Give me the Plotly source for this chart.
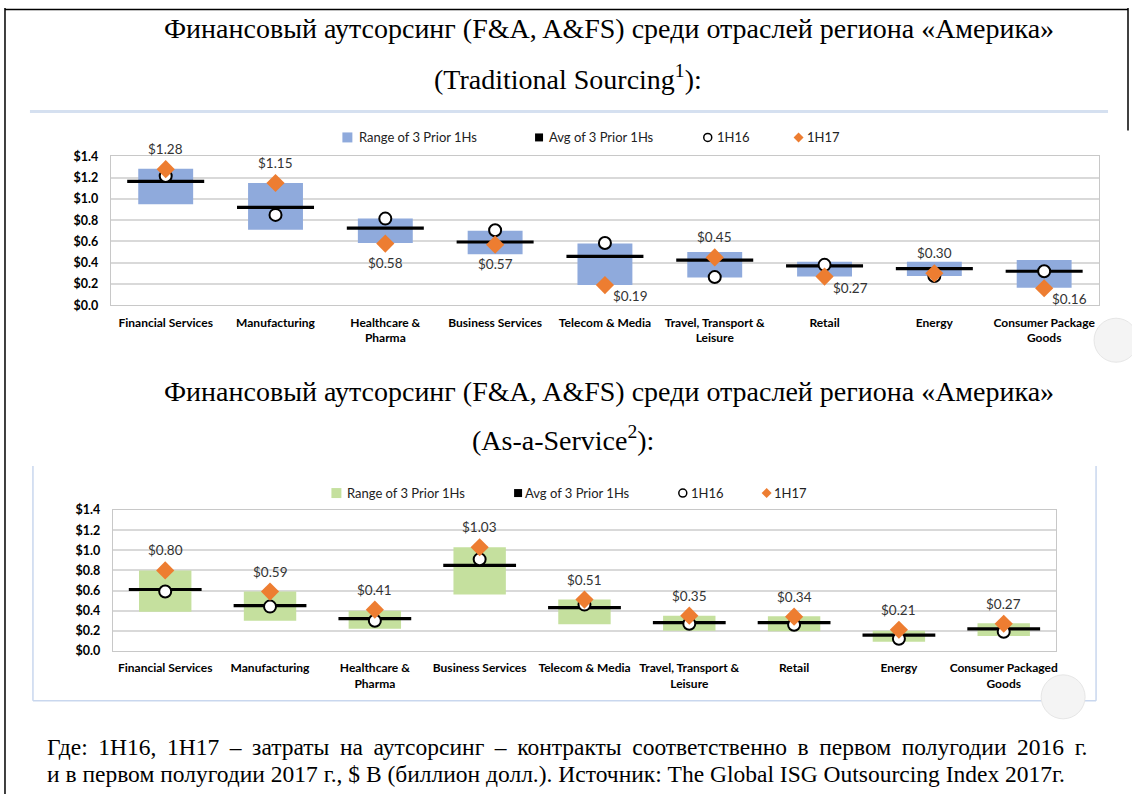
import plotly.graph_objects as go

W, H = 1132, 801

# ---------------- data ----------------
cats_trad = ["Financial Services", "Manufacturing", "Healthcare &<br>Pharma", "Business Services",
             "Telecom & Media", "Travel, Transport &<br>Leisure", "Retail", "Energy",
             "Consumer Package<br>Goods"]
cats_aas = ["Financial Services", "Manufacturing", "Healthcare &<br>Pharma", "Business Services",
            "Telecom & Media", "Travel, Transport &<br>Leisure", "Retail", "Energy",
            "Consumer Packaged<br>Goods"]

trad_low = [0.95, 0.71, 0.585, 0.48, 0.19, 0.26, 0.27, 0.275, 0.165]
trad_high = [1.285, 1.15, 0.815, 0.70, 0.58, 0.50, 0.41, 0.41, 0.425]
trad_avg = [1.165, 0.92, 0.725, 0.595, 0.46, 0.425, 0.37, 0.345, 0.32]
trad_1h16 = [1.215, 0.85, 0.815, 0.705, 0.585, 0.265, 0.38, 0.275, 0.32]
trad_1h17 = [1.28, 1.15, 0.58, 0.57, 0.19, 0.45, 0.27, 0.30, 0.16]

aas_low = [0.39, 0.30, 0.22, 0.56, 0.265, 0.20, 0.195, 0.09, 0.147]
aas_high = [0.80, 0.59, 0.40, 1.03, 0.51, 0.35, 0.345, 0.20, 0.275]
aas_avg = [0.61, 0.45, 0.32, 0.85, 0.43, 0.28, 0.28, 0.157, 0.218]
aas_1h16 = [0.59, 0.44, 0.30, 0.91, 0.46, 0.27, 0.26, 0.12, 0.19]
aas_1h17 = [0.80, 0.59, 0.41, 1.03, 0.51, 0.35, 0.34, 0.21, 0.27]

y_ticks = [0, 0.2, 0.4, 0.6, 0.8, 1.0, 1.2, 1.4]
y_ticktext = ["$0.0", "$0.2", "$0.4", "$0.6", "$0.8", "$1.0", "$1.2", "$1.4"]

legend_labels = ["Range of 3 Prior 1Hs", "Avg of 3 Prior 1Hs", "1H16", "1H17"]

# styles: label placement of the 1H17 values (a = above, b = below, r = below right)
trad_pos = ["a", "a", "b", "b", "r", "a", "r", "a", "r"]
aas_pos = ["a"] * 9
BLUE = "#8FAADC"
GREEN = "#C5E09E"
ORANGE = "#ED7D31"
SANS = "Lato"
SERIF = "Liberation Serif"


def px(x):
    return x / W


def py(y):
    y = 420 + (y - 420) * 1.018
    return 1 - y / H


fig = go.Figure()
annotations = []
shapes = []


def add_chart(cats, low, high, avg, h16, h17, color, xa, ya, boxpx, pos):
    fig.add_trace(go.Bar(x=cats, y=[h - l for h, l in zip(high, low)], base=low, width=0.5,
                         marker=dict(color=color, line=dict(width=0)), xaxis=xa, yaxis=ya,
                         showlegend=False, hoverinfo="skip"))
    fig.add_trace(go.Scatter(x=cats, y=avg, mode="markers", xaxis=xa, yaxis=ya,
                             marker=dict(symbol="line-ew", size=boxpx,
                                         line=dict(color="black", width=3.2)),
                             showlegend=False, hoverinfo="skip", cliponaxis=False))
    fig.add_trace(go.Scatter(x=cats, y=h16, mode="markers", xaxis=xa, yaxis=ya,
                             marker=dict(symbol="circle", size=12, color="white",
                                         line=dict(color="black", width=2)),
                             showlegend=False, hoverinfo="skip", cliponaxis=False))
    fig.add_trace(go.Scatter(x=cats, y=h17, mode="markers", xaxis=xa, yaxis=ya,
                             marker=dict(symbol="diamond", size=14, color=ORANGE),
                             showlegend=False, hoverinfo="skip", cliponaxis=False))
    for c, v, p in zip(cats, h17, pos):
        if p == "a":
            off = dict(xanchor="center", yanchor="middle", xshift=0, yshift=20)
        elif p == "b":
            off = dict(xanchor="center", yanchor="middle", xshift=0, yshift=-19)
        else:
            off = dict(xanchor="left", yanchor="middle", xshift=6, yshift=-11)
        annotations.append(dict(xref=xa, yref=ya, x=c, y=v, text=f"${v:.2f}", showarrow=False,
                                font=dict(family=SANS, size=13.5, color="#333333"), **off))


add_chart(cats_trad, trad_low, trad_high, trad_avg, trad_1h16, trad_1h17, BLUE, "x", "y", 55, trad_pos)
add_chart(cats_aas, aas_low, aas_high, aas_avg, aas_1h16, aas_1h17, GREEN, "x2", "y2", 52, aas_pos)

xcommon = dict(type="category", range=[-0.5, 8.5], showgrid=False, ticks="", showline=True,
               linecolor="#C8C8C8", linewidth=1, mirror=True,
               tickfont=dict(family=SANS, size=12, color="black", weight="bold"),
               ticklabelstandoff=6, fixedrange=True)
ycommon = dict(range=[0, 1.4], tickmode="array", tickvals=y_ticks, ticktext=y_ticktext,
               showgrid=True, gridcolor="#D9D9D9", gridwidth=1.5, showline=True,
               linecolor="#C8C8C8", linewidth=1, mirror=True, zeroline=False, ticks="",
               tickfont=dict(family=SANS, size=12.5, color="black", weight="bold"),
               ticklabelstandoff=9, fixedrange=True)

fig.update_layout(
    width=W, height=H, autosize=False,
    margin=dict(l=0, r=0, t=0, b=0),
    paper_bgcolor="white", plot_bgcolor="white",
    showlegend=False,
    xaxis=dict(domain=[px(111), px(1101)], anchor="y", **xcommon),
    yaxis=dict(domain=[py(305), py(156)], anchor="x", **ycommon),
    xaxis2=dict(domain=[px(113), px(1058)], anchor="y2", **xcommon),
    yaxis2=dict(domain=[py(651), py(510)], anchor="x2", **ycommon),
)


def legend(yc, xs, color):
    x0, xt0, x1, xt1, x2, xt2, x3, xt3 = xs
    shapes.append(dict(type="rect", xref="paper", yref="paper", x0=px(x0), x1=px(x0 + 10),
                       y0=py(yc + 5), y1=py(yc - 5), fillcolor=color, line=dict(width=0)))
    shapes.append(dict(type="rect", xref="paper", yref="paper", x0=px(x1), x1=px(x1 + 8),
                       y0=py(yc + 4), y1=py(yc - 4), fillcolor="black", line=dict(width=0)))
    shapes.append(dict(type="circle", xref="paper", yref="paper", x0=px(x2 - 4), x1=px(x2 + 4),
                       y0=py(yc + 4), y1=py(yc - 4), fillcolor="white",
                       line=dict(color="black", width=1.5)))
    path = (f"M {px(x3)} {py(yc - 5)} L {px(x3 + 5)} {py(yc)} L {px(x3)} {py(yc + 5)} "
            f"L {px(x3 - 5)} {py(yc)} Z")
    shapes.append(dict(type="path", xref="paper", yref="paper", path=path, fillcolor=ORANGE,
                       line=dict(width=0)))
    for xt, lab in zip([xt0, xt1, xt2, xt3], legend_labels):
        annotations.append(dict(xref="paper", yref="paper", x=px(xt), y=py(yc), text=lab,
                                xanchor="left", yanchor="middle", showarrow=False,
                                font=dict(family=SANS, size=13, color="#222222")))


legend(137, [343, 358, 536, 548, 709, 716, 800, 806], BLUE)
legend(493, [332, 346, 515, 524, 684, 690, 768, 773], GREEN)

title_font = dict(family=SERIF, size=28, color="black")
for xc, yc, txt in [(610, 28, "Финансовый аутсорсинг (F&A, A&FS) среди отраслей региона «Америка»"),
                    (569, 77, "(Traditional Sourcing<sup>1</sup>):"),
                    (610, 391, "Финансовый аутсорсинг (F&A, A&FS) среди отраслей региона «Америка»"),
                    (564, 438, "(As-a-Service<sup>2</sup>):")]:
    annotations.append(dict(xref="paper", yref="paper", x=px(xc), y=py(yc), text=txt,
                            xanchor="center", yanchor="middle", showarrow=False, font=title_font))

cap_font = dict(family=SERIF, size=23.5, color="black")
line1_words = ["Где:", "1H16,", "1H17", "–", "затраты", "на", "аутсорсинг", "–", "контракты",
               "соответственно", "в", "первом", "полугодии", "2016", "г."]
annotations.append(dict(xref="paper", yref="paper", x=px(45), y=py(747),
                        text=" \u2009".join(line1_words),
                        xanchor="left", yanchor="middle", showarrow=False, font=cap_font))
annotations.append(dict(xref="paper", yref="paper", x=px(45), y=py(774),
                        text="и в первом полугодии 2017 г., $ B (биллион долл.). Источник: The Global ISG Outsourcing Index 2017г.",
                        xanchor="left", yanchor="middle", showarrow=False, font=cap_font))

# decorative frames
shapes.append(dict(type="line", xref="paper", yref="paper", x0=px(30), x1=px(1110),
                   y0=py(111), y1=py(111), line=dict(color="#D5E0F0", width=3)))
fr = "#C9D7EE"
shapes.append(dict(type="line", xref="paper", yref="paper", x0=px(33), x1=px(33),
                   y0=py(466), y1=py(701), line=dict(color=fr, width=1.5)))
shapes.append(dict(type="line", xref="paper", yref="paper", x0=px(1098), x1=px(1098),
                   y0=py(466), y1=py(701), line=dict(color=fr, width=1.5)))
shapes.append(dict(type="line", xref="paper", yref="paper", x0=px(33), x1=px(1098),
                   y0=py(701), y1=py(701), line=dict(color=fr, width=1.5)))
# screenshot overlay buttons
shapes.append(dict(type="circle", xref="paper", yref="paper", x0=px(1096), x1=px(1140),
                   y0=py(362), y1=py(318), fillcolor="#F4F4F4", line=dict(color="#E6E6E6", width=1)))
shapes.append(dict(type="circle", xref="paper", yref="paper", x0=px(1043), x1=px(1087),
                   y0=py(719), y1=py(675), fillcolor="#F4F4F4", line=dict(color="#E6E6E6", width=1)))
# page border
shapes.append(dict(type="line", xref="paper", yref="paper", x0=px(5), x1=px(5),
                   y0=1, y1=0, line=dict(color="black", width=1.5)))
shapes.append(dict(type="line", xref="paper", yref="paper", x0=px(5), x1=px(1130),
                   y0=1 - 1.5 / H, y1=1 - 1.5 / H, line=dict(color="black", width=1.5)))
shapes.append(dict(type="line", xref="paper", yref="paper", x0=px(1130), x1=px(1130),
                   y0=1, y1=py(130), line=dict(color="black", width=1.5)))

fig.update_layout(shapes=shapes, annotations=annotations)
fig.write_html("out.html", config={"displayModeBar": False},
               post_script="document.body.style.margin='0';document.body.style.overflow='hidden';")
